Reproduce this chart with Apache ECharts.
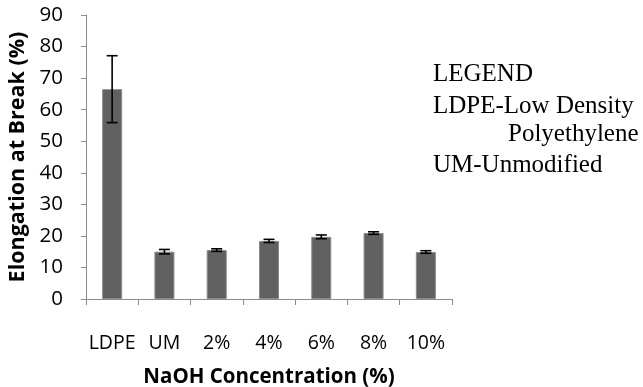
<!DOCTYPE html>
<html>
<head>
<meta charset="utf-8">
<script src="https://cdn.jsdelivr.net/npm/echarts@6/dist/echarts.min.js"></script>
<style>
html,body{margin:0;padding:0;background:#fff;}
#chart{width:643px;height:387px;}
</style>
</head>
<body>
<div id="chart"></div>
<script>
var categories = ['LDPE', 'UM', '2%', '4%', '6%', '8%', '10%'];
var elongation = [66.5, 15.0, 15.5, 18.4, 19.7, 20.9, 14.9];
var errors = [10.6, 0.7, 0.4, 0.5, 0.6, 0.4, 0.4];
var yTicks = [0, 10, 20, 30, 40, 50, 60, 70, 80, 90];
var legendLines = ['LEGEND', 'LDPE-Low Density', 'Polyethylene', 'UM-Unmodified'];

var errData = categories.map(function (c, i) {
  return [i, elongation[i] - errors[i], elongation[i] + errors[i]];
});

var chart = echarts.init(document.getElementById('chart'), null, {renderer: 'canvas'});
var axisColor = '#8c8c8c';
var sans = '"Open Sans", sans-serif';
var option = {
  animation: false,
  backgroundColor: '#fff',
  grid: {left: 86, top: 15, right: 191, bottom: 88, containLabel: false, outerBoundsMode: 'none'},
  xAxis: {
    type: 'category',
    data: categories,
    name: 'NaOH Concentration (%)',
    nameLocation: 'middle',
    nameGap: 68,
    nameTextStyle: {fontFamily: sans, fontWeight: 'bold', fontSize: 20.5, color: '#000'},
    axisLine: {lineStyle: {color: axisColor, width: 1}},
    axisTick: {show: true, inside: false, length: 6, lineStyle: {color: axisColor}},
    axisLabel: {fontFamily: sans, fontSize: 19.5, color: '#000', margin: 34, interval: 0},
    splitLine: {show: false}
  },
  yAxis: {
    type: 'value',
    min: yTicks[0],
    max: yTicks[yTicks.length - 1],
    interval: 10,
    name: 'Elongation at Break (%)',
    nameLocation: 'middle',
    nameGap: 53,
    nameTextStyle: {fontFamily: sans, fontWeight: 'bold', fontSize: 21.5, color: '#000'},
    axisLine: {show: true, lineStyle: {color: axisColor, width: 1}},
    axisTick: {show: true, inside: false, length: 5, lineStyle: {color: axisColor}},
    axisLabel: {fontFamily: sans, fontSize: 20.5, color: '#000', margin: 23},
    splitLine: {show: false}
  },
  series: [
    {
      type: 'bar',
      data: elongation,
      barWidth: 20,
      itemStyle: {color: '#616161', borderColor: '#8a8a8a', borderWidth: 1}
    },
    {
      type: 'custom',
      data: errData,
      z: 10,
      renderItem: function (params, api) {
        var x = api.value(0);
        var lo = api.coord([x, api.value(1)]);
        var hi = api.coord([x, api.value(2)]);
        var hw = 5.5;
        var st = {stroke: '#000', lineWidth: 1.6};
        return {
          type: 'group',
          children: [
            {type: 'line', shape: {x1: lo[0], y1: lo[1], x2: hi[0], y2: hi[1]}, style: st},
            {type: 'line', shape: {x1: lo[0] - hw, y1: lo[1], x2: lo[0] + hw, y2: lo[1]}, style: st},
            {type: 'line', shape: {x1: hi[0] - hw, y1: hi[1], x2: hi[0] + hw, y2: hi[1]}, style: st}
          ]
        };
      }
    }
  ],
  graphic: [
    {type: 'text', left: 433, top: 62, style: {text: legendLines[0], font: '25px "Liberation Serif", serif', fill: '#000'}},
    {type: 'text', left: 433, top: 94, style: {text: legendLines[1], font: '25px "Liberation Serif", serif', fill: '#000'}},
    {type: 'text', left: 508, top: 122, style: {text: legendLines[2], font: '25px "Liberation Serif", serif', fill: '#000'}},
    {type: 'text', left: 433, top: 153, style: {text: legendLines[3], font: '25px "Liberation Serif", serif', fill: '#000'}}
  ]
};
chart.setOption(option);
</script>
</body>
</html>
